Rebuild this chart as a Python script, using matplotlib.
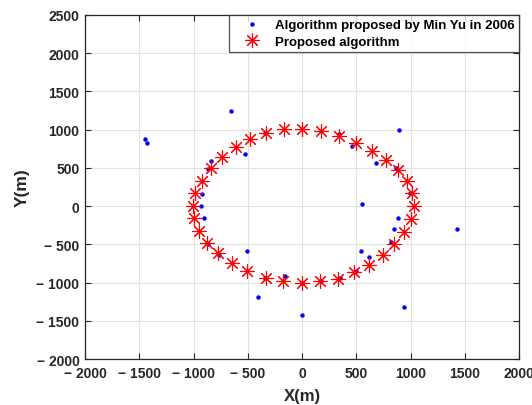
import matplotlib
matplotlib.use("Agg")
import matplotlib.pyplot as plt

# Estimated target positions (m)
minyu_x = [-1447, -1426, -656, -528, -836, -862, -923, -932, -904, -864, -769,
           -503, -410, -343, -340, 343, 460, 679, 870, 892, 994, 549, 889,
           846, 818, 1426, 540, 620, 500, 346, 176, -160, 3, 3, 938]
minyu_y = [875, 822, 1243, 681, 595, 480, 161, 0, -157, -501, -645,
           -593, -1184, -936, 955, 948, 787, 565, 500, 1000, 170, 26, -153,
           -300, -466, -305, -588, -671, -849, -936, -979, -914, -1001, -1419, -1319]

prop_x = [1028, 1015, 972, 889, 775, 645, 497, 340, 173, 3, -167, -333,
          -475, -611, -738, -840, -926, -988, -1006, -997, -954, -873, -772,
          -645, -503, -336, -173, 3, 167, 333, 481, 617, 744, 846, 938, 1003]
prop_y = [0, 170, 326, 470, 609, 726, 830, 913, 978, 1004, 1004, 957,
          878, 770, 643, 496, 335, 178, 0, -157, -326, -483, -617,
          -739, -848, -935, -983, -1004, -983, -948, -861, -765, -639, -491, -339, -174]

x_ticks = list(range(-2000, 2001, 500))
y_ticks = list(range(-2000, 2501, 500))

plt.rcParams['font.family'] = ['Liberation Sans', 'DejaVu Sans']
plt.rcParams['font.weight'] = 'bold'

fig = plt.figure(figsize=(5.32, 4.06), dpi=100)
ax = fig.add_axes([0.1598, 0.1133, 0.8158, 0.8473])

ax.plot(minyu_x, minyu_y, linestyle='none', marker='o', markersize=3.2,
        color='#0000ff', markeredgewidth=0, label='Algorithm proposed by Min Yu in 2006')
ax.plot(prop_x, prop_y, linestyle='none', marker=(8, 2, 0), markersize=10.5,
        color='#ff0000', markeredgewidth=0.8, label='Proposed algorithm')

ax.set_xlim(-2000, 2000)
ax.set_ylim(-2000, 2500)
ax.set_xticks(x_ticks)
ax.set_yticks(y_ticks)

def fmt(v):
    return f'\u2212 {abs(v)}' if v < 0 else f'{v}'

ax.set_xticklabels([fmt(v) for v in x_ticks], fontsize=10, fontweight='bold', color='#262626')
ax.set_yticklabels([fmt(v) for v in y_ticks], fontsize=10, fontweight='bold', color='#262626')

ax.tick_params(axis='both', direction='in', top=True, right=True, length=4, width=0.8,
               color='#262626')
ax.tick_params(axis='x', pad=5)
ax.tick_params(axis='y', pad=4)
for s in ax.spines.values():
    s.set_color('#262626')
    s.set_linewidth(0.9)

ax.grid(True, color='#e2e2e2', linewidth=0.8)
ax.set_axisbelow(True)

ax.set_xlabel('X(m)', fontsize=12, fontweight='bold', color='#262626', labelpad=6)
ax.set_ylabel('Y(m)', fontsize=12.5, fontweight='bold', color='#262626', labelpad=5)

leg = ax.legend(loc='upper right', borderaxespad=0.0, fontsize=9.5, frameon=True,
                fancybox=False, edgecolor='#262626', handletextpad=0.4,
                borderpad=0.3, labelspacing=0.35, handlelength=2.8)
leg.get_frame().set_linewidth(0.9)
for t in leg.get_texts():
    t.set_fontweight('bold')
    t.set_color('#000000')

fig.savefig('out.png', dpi=100)
